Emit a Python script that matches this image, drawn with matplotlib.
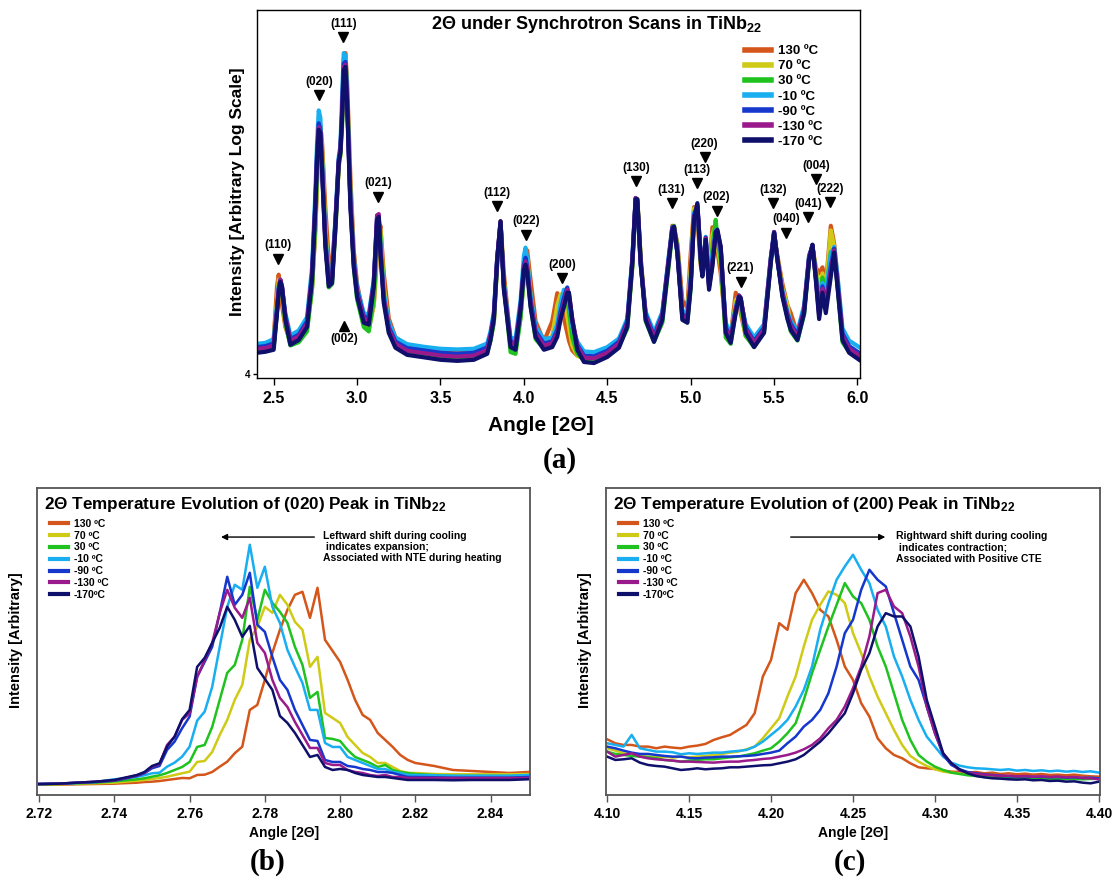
import matplotlib
matplotlib.use('Agg')
import matplotlib.pyplot as plt
from matplotlib.ticker import NullLocator, FormatStrFormatter

plt.rcParams['font.family'] = ['Liberation Sans', 'DejaVu Sans']
plt.rcParams['font.weight'] = 'bold'
plt.rcParams['axes.labelweight'] = 'bold'
plt.rcParams['mathtext.fontset'] = 'custom'
plt.rcParams['mathtext.rm'] = 'Liberation Sans:bold'
plt.rcParams['mathtext.bf'] = 'Liberation Sans:bold'
plt.rcParams['mathtext.default'] = 'bf'

#%% data
labels_a = ['130 ºC', '70 ºC', '30 ºC', '-10 ºC', '-90 ºC', '-130 ºC', '-170 ºC']
labels_bc = ['130 ºC', '70 ºC', '30 ºC', '-10 ºC', '-90 ºC', '-130 ºC', '-170ºC']
colors = ['#D4561A', '#CFCA16', '#1FC21F', '#18AEF0', '#1537CC', '#9A1A8C', '#0E106C']

# (a) full scan, log intensity
angle_a = [2.40, 2.45, 2.50, 2.52, 2.53, 2.54, 2.55, 2.57, 2.60, 2.65,
           2.70, 2.73, 2.75, 2.76, 2.77, 2.78, 2.79, 2.81, 2.83, 2.85,
           2.87, 2.89, 2.90, 2.91, 2.92, 2.93, 2.94, 2.96, 2.98, 3.00,
           3.04, 3.07, 3.10, 3.12, 3.13, 3.14, 3.16, 3.19, 3.23, 3.30,
           3.40, 3.50, 3.60, 3.70, 3.78, 3.80, 3.82, 3.84, 3.86, 3.88,
           3.92, 3.95, 3.98, 4.00, 4.01, 4.02, 4.04, 4.07, 4.12, 4.17,
           4.20, 4.22, 4.24, 4.26, 4.27, 4.29, 4.32, 4.36, 4.42, 4.50,
           4.57, 4.62, 4.65, 4.67, 4.68, 4.70, 4.73, 4.78, 4.83, 4.87,
           4.89, 4.90, 4.92, 4.95, 4.98, 5.00, 5.02, 5.04, 5.06, 5.07,
           5.09, 5.11, 5.13, 5.15, 5.16, 5.18, 5.21, 5.24, 5.27, 5.29,
           5.30, 5.33, 5.38, 5.44, 5.48, 5.50, 5.52, 5.55, 5.58, 5.60,
           5.64, 5.68, 5.71, 5.73, 5.75, 5.77, 5.79, 5.81, 5.84, 5.86,
           5.88, 5.91, 5.95, 6.01]

a_130 = [4.78, 4.80, 5.00, 7.00, 7.54, 7.00, 6.20, 5.40, 4.92, 5.00,
         5.40, 7.00, 10.0, 13.5, 17.5, 19.5, 17.5, 11.5, 8.30, 8.00,
         10.5, 15.0, 16.8, 21.0, 30.0, 31.0, 26.0, 14.0, 8.80, 7.10,
         5.75, 5.45, 6.20, 8.60, 9.80, 10.3, 7.60, 5.70, 5.05, 4.80,
         4.70, 4.62, 4.62, 4.66, 4.75, 5.05, 5.60, 8.10, 10.5, 7.60,
         4.90, 4.80, 5.80, 7.60, 8.60, 8.80, 7.30, 5.60, 4.92, 5.60,
         6.70, 6.40, 5.70, 5.20, 4.95, 4.65, 4.50, 4.45, 4.45, 4.60,
         4.90, 5.60, 8.00, 12.2, 12.2, 8.40, 5.85, 5.15, 5.90, 8.40,
         10.3, 10.2, 9.20, 6.40, 6.10, 8.60, 11.6, 10.8, 8.00, 7.70,
         9.00, 7.60, 10.2, 10.0, 8.80, 7.60, 5.40, 5.10, 6.72, 6.40,
         5.90, 5.10, 4.85, 5.40, 8.40, 9.60, 8.50, 7.10, 6.20, 5.90,
         5.15, 6.10, 8.50, 9.00, 7.90, 7.60, 7.90, 7.00, 10.3, 9.20,
         7.40, 5.20, 4.75, 4.55]
a_70 = [4.72, 4.75, 4.85, 6.40, 7.30, 7.25, 6.60, 5.50, 4.86, 4.95,
        5.35, 6.90, 10.3, 14.0, 18.0, 19.2, 16.5, 10.2, 7.50, 7.40,
        10.0, 15.0, 16.2, 20.0, 28.5, 30.0, 24.0, 12.8, 8.20, 6.70,
        5.50, 5.30, 6.20, 8.90, 10.2, 10.0, 7.00, 5.45, 4.90, 4.66,
        4.58, 4.52, 4.50, 4.52, 4.64, 5.00, 5.60, 8.20, 10.6, 7.20,
        4.75, 4.68, 5.80, 7.60, 8.40, 8.40, 6.60, 5.20, 4.80, 5.10,
        6.20, 6.65, 6.40, 5.80, 5.40, 4.80, 4.50, 4.40, 4.38, 4.55,
        4.80, 5.45, 8.00, 12.2, 12.2, 8.30, 5.70, 5.00, 5.70, 8.30,
        10.2, 10.2, 8.90, 5.90, 5.85, 7.80, 11.5, 11.5, 8.20, 7.60,
        9.20, 7.40, 9.70, 10.4, 9.10, 8.00, 5.20, 5.00, 6.40, 6.55,
        6.10, 5.10, 4.82, 5.35, 8.30, 9.70, 8.40, 6.90, 6.20, 5.45,
        5.00, 6.00, 8.40, 9.00, 7.80, 6.90, 7.60, 6.80, 10.0, 9.00,
        7.20, 5.00, 4.65, 4.48]
a_30 = [4.65, 4.68, 4.74, 5.95, 6.80, 7.10, 6.85, 5.55, 4.80, 4.90,
        5.25, 6.90, 10.5, 14.5, 18.6, 19.0, 15.5, 9.50, 6.95, 7.10,
        10.0, 15.2, 16.2, 19.5, 27.5, 29.5, 24.5, 12.2, 7.90, 6.45,
        5.40, 5.25, 6.40, 9.30, 10.5, 9.60, 6.60, 5.25, 4.78, 4.58,
        4.52, 4.46, 4.44, 4.46, 4.58, 4.95, 5.55, 8.10, 10.5, 7.10,
        4.60, 4.55, 5.70, 7.40, 8.00, 7.90, 6.20, 5.00, 4.70, 4.85,
        5.30, 6.10, 6.70, 6.45, 6.00, 5.05, 4.55, 4.38, 4.36, 4.52,
        4.78, 5.35, 7.90, 12.0, 12.2, 8.40, 5.60, 4.92, 5.55, 8.10,
        9.90, 10.3, 9.00, 5.70, 5.55, 6.90, 11.0, 11.6, 8.20, 7.50,
        9.30, 7.10, 8.90, 10.7, 9.50, 8.30, 5.05, 4.85, 6.00, 6.55,
        6.25, 5.10, 4.75, 5.25, 8.10, 9.80, 8.40, 6.60, 5.75, 5.25,
        4.95, 5.85, 8.20, 9.10, 7.60, 6.20, 7.40, 6.60, 8.70, 8.80,
        7.00, 4.90, 4.60, 4.42]
a_m10 = [4.85, 4.88, 5.00, 6.20, 7.00, 7.30, 6.90, 5.90, 5.12, 5.28,
         5.75, 7.90, 12.8, 17.5, 21.5, 20.5, 15.6, 9.60, 7.50, 7.60,
         10.8, 16.0, 17.2, 23.5, 31.0, 30.5, 23.8, 12.3, 8.40, 6.95,
         5.90, 5.85, 7.30, 10.6, 10.8, 9.10, 6.70, 5.55, 5.05, 4.84,
         4.76, 4.70, 4.68, 4.70, 4.86, 5.25, 5.95, 8.35, 10.3, 7.10,
         5.05, 5.00, 6.40, 8.50, 8.96, 8.30, 6.60, 5.40, 5.00, 5.05,
         5.50, 6.30, 6.85, 6.80, 6.40, 5.40, 4.92, 4.62, 4.60, 4.75,
         5.02, 5.70, 8.40, 12.3, 11.8, 8.00, 5.95, 5.22, 5.95, 8.60,
         10.2, 10.0, 8.70, 6.00, 5.90, 7.40, 11.2, 11.5, 8.50, 7.70,
         9.60, 7.20, 8.60, 10.0, 9.60, 8.70, 5.55, 5.15, 6.15, 6.60,
         6.35, 5.50, 5.05, 5.50, 8.40, 9.90, 8.20, 6.80, 5.95, 5.60,
         5.25, 6.20, 8.55, 9.00, 7.55, 6.05, 7.15, 6.70, 8.60, 9.00,
         7.50, 5.35, 4.95, 4.75]
a_m90 = [4.75, 4.78, 4.86, 6.05, 6.90, 7.30, 6.95, 5.80, 5.00, 5.14,
         5.60, 7.60, 12.1, 16.3, 19.8, 19.0, 15.0, 9.30, 7.25, 7.40,
         10.5, 15.7, 16.8, 21.5, 29.0, 29.3, 23.2, 12.0, 8.20, 6.80,
         5.78, 5.72, 7.20, 11.0, 10.9, 8.85, 6.50, 5.40, 4.92, 4.72,
         4.65, 4.58, 4.55, 4.58, 4.74, 5.15, 5.85, 8.40, 10.5, 7.00,
         4.93, 4.86, 6.20, 8.00, 8.40, 7.90, 6.40, 5.26, 4.86, 4.93,
         5.30, 5.95, 6.50, 6.95, 6.60, 5.60, 4.82, 4.50, 4.48, 4.64,
         4.92, 5.60, 8.30, 12.3, 12.0, 8.10, 5.85, 5.10, 5.85, 8.50,
         10.2, 10.1, 8.70, 5.85, 5.75, 7.20, 11.0, 11.7, 8.45, 7.60,
         9.55, 7.05, 8.20, 9.95, 9.85, 8.90, 5.40, 5.05, 6.05, 6.60,
         6.45, 5.38, 4.93, 5.38, 8.30, 9.90, 8.30, 6.70, 5.85, 5.50,
         5.15, 6.05, 8.45, 9.10, 7.45, 5.90, 7.00, 6.25, 7.95, 8.90,
         7.20, 5.18, 4.78, 4.58]
a_m130 = [4.70, 4.72, 4.80, 6.00, 6.85, 7.30, 7.00, 5.75, 4.95, 5.08,
          5.52, 7.50, 11.9, 16.0, 19.3, 18.8, 14.9, 9.20, 7.15, 7.30,
          10.4, 15.6, 16.6, 20.8, 28.3, 28.8, 23.0, 11.9, 8.10, 6.70,
          5.68, 5.62, 7.10, 11.0, 11.1, 8.80, 6.42, 5.32, 4.85, 4.64,
          4.57, 4.50, 4.47, 4.50, 4.66, 5.08, 5.78, 8.35, 10.6, 6.95,
          4.87, 4.79, 6.10, 7.85, 8.20, 7.80, 6.28, 5.18, 4.79, 4.87,
          5.20, 5.78, 6.30, 6.85, 6.70, 5.70, 4.78, 4.44, 4.42, 4.58,
          4.85, 5.52, 8.20, 12.3, 12.1, 8.20, 5.77, 5.03, 5.77, 8.40,
          10.1, 10.2, 8.75, 5.77, 5.67, 7.10, 10.8, 11.8, 8.40, 7.55,
          9.50, 6.97, 8.05, 9.90, 9.95, 9.00, 5.32, 5.00, 6.00, 6.60,
          6.50, 5.32, 4.87, 5.32, 8.25, 9.90, 8.35, 6.65, 5.78, 5.42,
          5.09, 6.00, 8.40, 9.10, 7.40, 5.80, 6.90, 6.10, 7.70, 8.80,
          7.10, 5.09, 4.70, 4.50]
a_m170 = [4.58, 4.61, 4.67, 5.90, 6.70, 7.20, 6.98, 5.65, 4.82, 4.97,
          5.40, 7.30, 11.6, 15.7, 19.0, 18.6, 14.7, 9.00, 7.00, 7.15,
          10.2, 15.4, 16.4, 20.3, 27.8, 28.4, 22.6, 11.6, 7.94, 6.55,
          5.55, 5.48, 6.98, 10.7, 10.9, 8.68, 6.30, 5.20, 4.73, 4.52,
          4.45, 4.38, 4.35, 4.38, 4.55, 4.97, 5.68, 8.29, 10.6, 6.85,
          4.75, 4.67, 6.03, 7.78, 8.04, 7.63, 6.14, 5.07, 4.67, 4.75,
          5.07, 5.68, 6.14, 6.72, 6.72, 5.65, 4.67, 4.32, 4.29, 4.46,
          4.73, 5.41, 8.13, 12.2, 12.2, 8.13, 5.65, 4.91, 5.65, 8.29,
          10.05, 10.25, 8.68, 5.65, 5.55, 6.98, 10.7, 11.9, 8.29, 7.45,
          9.42, 6.85, 7.94, 9.86, 10.05, 9.00, 5.20, 4.88, 5.90, 6.55,
          6.50, 5.20, 4.75, 5.20, 8.13, 9.86, 8.29, 6.55, 5.68, 5.30,
          4.97, 5.90, 8.29, 9.13, 7.30, 5.68, 6.72, 5.90, 7.45, 8.68,
          6.98, 4.97, 4.58, 4.38]

peak_names = ['(111)', '(020)', '(021)', '(110)', '(112)', '(022)', '(200)', '(130)', '(131)',
              '(113)', '(220)', '(202)', '(221)', '(132)', '(040)', '(041)', '(004)', '(222)']
peak_angles = [2.918, 2.774, 3.128, 2.528, 3.841, 4.015, 4.231, 4.675, 4.885,
               5.035, 5.083, 5.155, 5.299, 5.496, 5.574, 5.706, 5.754, 5.838]
peak_levels = [34.3, 23.7, 12.4, 8.35, 11.7, 9.73, 7.39, 13.7, 11.9,
               13.5, 16.0, 11.35, 7.21, 11.9, 9.86, 10.9, 13.9, 12.0]
hidden_peak = ('(002)', 2.924, 5.44)

# (b) (020) peak, linear intensity
angle_b = [2.720, 2.725, 2.730, 2.735, 2.740,
           2.742, 2.744, 2.746, 2.748, 2.750, 2.752, 2.754, 2.756, 2.758, 2.760,
           2.762, 2.764, 2.766, 2.768, 2.770, 2.772, 2.774, 2.776, 2.778, 2.780,
           2.782, 2.784, 2.786, 2.788, 2.790, 2.792, 2.794, 2.796, 2.798, 2.800,
           2.802, 2.804, 2.806, 2.808, 2.810, 2.812, 2.814, 2.816, 2.818, 2.820,
           2.825, 2.830, 2.835, 2.840, 2.845, 2.850]
b_130 = [10.3, 10.3, 10.7, 11.0, 11.3,
         11.7, 12.0, 12.3, 13.0, 13.3, 14.0, 15.0, 16.0, 17.0, 16.7,
         20.0, 20.3, 23.0, 28.3, 33.3, 41.7, 48.3, 85.0, 90.0, 115,
         142, 165, 185, 200, 203, 177, 207, 155, 144, 133,
         115, 95, 80, 75, 62, 55, 48, 40, 35, 32,
         29, 25, 24, 23, 22, 23]
b_70 = [10.7, 10.7, 11.3, 11.7, 12.3,
        13.0, 13.7, 14.3, 15.0, 16.0, 17.0, 18.3, 20.0, 21.7, 23.3,
        33.0, 34.0, 43.0, 60.0, 75.0, 95.0, 110, 155, 168, 188,
        182, 200, 190, 173, 165, 128, 138, 82, 77, 72,
        58, 50, 42, 38, 32, 32, 28, 24, 22, 22,
        21, 20.7, 20.7, 20.7, 20.7, 21]
b_30 = [10.7, 11.0, 11.7, 12.3, 13.7,
        14.3, 15.0, 15.7, 16.7, 18.3, 19.7, 22.0, 25.0, 28.0, 33.0,
        48.0, 50.0, 68.0, 95.0, 122, 130, 155, 208, 175, 205,
        192, 183, 172, 148, 130, 97, 103, 57, 56, 54,
        45, 38, 35, 32, 28, 30, 25, 23, 22, 21,
        20, 19, 19, 19, 19, 19.3]
b_m10 = [11.0, 11.3, 12.0, 13.0, 15.7,
         16.3, 17.3, 18.3, 19.7, 21.7, 22.3, 28.3, 32.3, 38.3, 48.3,
         74.3, 83.3, 108, 148, 188, 210, 205, 250, 207, 228,
         188, 172, 145, 128, 112, 85, 85, 52, 48, 48,
         38, 35, 32, 29, 26, 26, 23, 22, 20, 20,
         19.7, 19.3, 19.3, 19.3, 19.3, 20]
b_m90 = [11.0, 11.3, 12.3, 13.0, 14.3,
         15.7, 17.3, 19.0, 21.7, 26.7, 29.0, 45.0, 53.3, 66.7, 78.3,
         118, 133, 148, 182, 218, 190, 200, 222, 170, 163,
         138, 115, 105, 85, 70, 55, 54, 35, 33, 33,
         29, 28, 26, 25, 23, 23, 22, 20, 18, 18,
         17.7, 17.3, 17.3, 17.3, 17.3, 18]
b_m130 = [11.0, 11.3, 12.3, 13.3, 14.7,
          16.3, 18.0, 19.7, 22.3, 28.3, 31.0, 50.0, 58.3, 75.0, 81.7,
          118, 135, 152, 182, 205, 187, 177, 197, 152, 142,
          115, 97, 88, 73, 60, 47, 47, 32, 30, 30,
          25, 23, 22, 20, 19, 20, 18, 18, 17, 17,
          17, 17, 17, 17, 17, 17]
b_m170 = [11.0, 11.3, 12.3, 13.3, 15.0,
          16.7, 18.3, 20.0, 23.0, 29.0, 31.7, 48.3, 58.3, 75.7, 85.0,
          128, 137, 152, 167, 188, 175, 158, 169, 127, 116,
          105, 79, 72, 62, 50, 38, 40, 28, 25, 26,
          25, 22, 20, 19, 18, 18, 17, 16, 15, 15,
          15, 14.7, 15, 15, 15, 15.7]

# (c) (200) peak, linear intensity
angle_c = [4.100, 4.105, 4.110, 4.115, 4.120, 4.125, 4.130, 4.135, 4.140, 4.145,
           4.150, 4.155, 4.160, 4.165, 4.170, 4.175, 4.180, 4.185, 4.190, 4.195,
           4.200, 4.205, 4.210, 4.215, 4.220, 4.225, 4.230, 4.235, 4.240, 4.245,
           4.250, 4.255, 4.260, 4.265, 4.270, 4.275, 4.280, 4.285, 4.290, 4.295,
           4.300, 4.305, 4.310, 4.315, 4.320, 4.325, 4.330, 4.335, 4.340, 4.345,
           4.350, 4.355, 4.360, 4.365, 4.370, 4.375, 4.380, 4.385, 4.390, 4.395,
           4.400]
c_130 = [167, 155, 150, 150, 145, 145, 140, 145, 142, 140,
         145, 148, 153, 165, 173, 180, 195, 210, 245, 355,
         405, 515, 495, 605, 645, 605, 555, 535, 465, 385,
         345, 275, 235, 170, 140, 120, 110, 95, 83, 80,
         78, 73, 70, 69, 67, 69, 65, 67, 63, 65,
         62, 64, 61, 63, 60, 61, 59, 61, 58, 56,
         55]
c_70 = [140, 133, 125, 120, 117, 115, 113, 115, 112, 115,
        113, 115, 117, 120, 123, 127, 130, 137, 145, 170,
        200, 230, 295, 355, 445, 525, 570, 610, 600, 575,
        485, 425, 355, 295, 245, 195, 150, 117, 100, 87,
        77, 70, 67, 65, 63, 61, 59, 57, 56, 55,
        54, 55, 53, 53, 52, 53, 51, 52, 50, 51,
        50]
c_30 = [130, 123, 120, 117, 115, 113, 110, 105, 103, 100,
        103, 105, 107, 107, 110, 113, 115, 120, 125, 133,
        140, 160, 185, 215, 285, 365, 435, 505, 570, 635,
        595, 575, 525, 445, 385, 305, 225, 165, 120, 100,
        85, 75, 67, 63, 59, 57, 54, 52, 51, 50,
        49, 50, 48, 49, 48, 49, 47, 48, 47, 48,
        49]
c_m10 = [155, 150, 145, 180, 140, 135, 130, 130, 128, 122,
         125, 123, 125, 127, 127, 130, 132, 135, 145, 160,
         180, 200, 225, 265, 315, 385, 495, 575, 645, 685,
         720, 675, 635, 555, 505, 415, 355, 285, 225, 175,
         145, 115, 97, 88, 83, 80, 79, 77, 75, 77,
         73, 75, 72, 74, 71, 73, 70, 72, 69, 71,
         67]
c_m90 = [145, 140, 133, 127, 123, 123, 120, 117, 115, 115,
         111, 110, 112, 113, 115, 115, 116, 117, 119, 123,
         127, 133, 155, 175, 205, 225, 255, 305, 385, 485,
         525, 615, 675, 645, 625, 545, 465, 385, 345, 265,
         185, 120, 90, 77, 69, 65, 62, 60, 58, 56,
         55, 56, 54, 55, 53, 54, 52, 53, 51, 52,
         50]
c_m130 = [130, 115, 120, 125, 115, 110, 107, 105, 103, 100,
          100, 99, 98, 97, 99, 100, 100, 103, 105, 108,
          110, 115, 120, 127, 137, 150, 170, 200, 225, 265,
          320, 385, 475, 605, 615, 565, 545, 475, 385, 265,
          185, 125, 95, 73, 67, 63, 61, 59, 57, 58,
          56, 57, 55, 56, 54, 55, 53, 54, 51, 50,
          47]
c_m170 = [115, 105, 107, 110, 97, 90, 87, 85, 80, 75,
          77, 80, 77, 79, 80, 83, 83, 85, 87, 89,
          90, 95, 100, 107, 120, 140, 160, 185, 215, 245,
          305, 375, 425, 505, 545, 535, 535, 505, 415, 285,
          205, 125, 95, 77, 65, 57, 53, 50, 49, 47,
          46, 47, 44, 45, 42, 43, 40, 41, 37, 35,
          40]

series_a = [a_130, a_70, a_30, a_m10, a_m90, a_m130, a_m170]
series_b = [b_130, b_70, b_30, b_m10, b_m90, b_m130, b_m170]
series_c = [c_130, c_70, c_30, c_m10, c_m90, c_m130, c_m170]

W, H = 1116, 884
fig = plt.figure(figsize=(W / 100, H / 100), dpi=100)


def px_box(left, top, right, bottom):
    return [left / W, 1 - bottom / H, (right - left) / W, (bottom - top) / H]


#%% panel (a)
ax = fig.add_axes(px_box(257, 10, 860, 378))
for vals, col, lab in zip(series_a, colors, labels_a):
    ax.plot(angle_a, vals, color=col, lw=3.0, label=lab, solid_joinstyle='round')
ax.set_yscale('log')
ax.set_xlim(2.4, 6.015)
ax.set_ylim(3.9, 40.8)
ax.set_yticks([4])
ax.set_yticklabels(['4'], fontsize=7)
ax.yaxis.set_minor_locator(NullLocator())
ax.set_xticks([2.5, 3.0, 3.5, 4.0, 4.5, 5.0, 5.5, 6.0])
ax.xaxis.set_major_formatter(FormatStrFormatter('%.1f'))
ax.tick_params(axis='x', labelsize=11.5, length=5, width=1, pad=4)
ax.tick_params(axis='y', length=3, width=1, pad=2)
for sp in ax.spines.values():
    sp.set_linewidth(1)
ax.text(0.562, 0.960, '2Θ under Synchrotron Scans in TiNb$_{22}$', transform=ax.transAxes,
        ha='center', va='center', fontsize=13)
for name, xa, lv in zip(peak_names, peak_angles, peak_levels):
    ax.plot([xa], [lv], marker='v', color='black', ms=6.5, ls='none')
    ax.annotate(name, (xa, lv), xytext=(0, 9.5), textcoords='offset points',
                ha='center', va='center', fontsize=8.5)
ax.plot([hidden_peak[1]], [hidden_peak[2]], marker='^', color='black', ms=6.5, ls='none')
ax.annotate(hidden_peak[0], (hidden_peak[1], hidden_peak[2]), xytext=(0, -9.5),
            textcoords='offset points', ha='center', va='center', fontsize=8.5)
leg = ax.legend(loc='upper left', bbox_to_anchor=(0.809, 0.905), frameon=False,
                prop={'weight': 'bold', 'size': 9.5}, handlelength=2.0,
                handletextpad=0.5, labelspacing=0.22, borderpad=0, borderaxespad=0)
for ln in leg.get_lines():
    ln.set_linewidth(4)
fig.text(541 / W, 1 - 425 / H, 'Angle [2Θ]', ha='center', va='center', fontsize=15)
fig.text(238 / W, 1 - 192 / H, 'Intensity [Arbitrary Log Scale]', rotation=90,
         ha='center', va='center', fontsize=12.5)
fig.text(560 / W, 1 - 460 / H, '(a)', family='Liberation Serif', fontsize=21,
         ha='center', va='center')


#%% panels (b) and (c)
def peak_panel(box, xs, series, xlim, ylim, xticks, title, arrow, note, note_xy, tag, tag_x):
    axp = fig.add_axes(box)
    for vals, col, lab in zip(series, colors, labels_bc):
        axp.plot(xs, vals, color=col, lw=1.8, label=lab)
    axp.set_xlim(*xlim)
    axp.set_ylim(*ylim)
    axp.set_yticks([])
    axp.set_xticks(xticks)
    axp.xaxis.set_major_formatter(FormatStrFormatter('%.2f'))
    axp.tick_params(axis='x', labelsize=10, length=5, width=1, color='#555555', pad=4)
    for sp in axp.spines.values():
        sp.set_color('#555555')
        sp.set_linewidth(1.3)
    axp.set_xlabel('Angle [2Θ]', fontsize=10, labelpad=3)
    axp.text(0.014, 0.945, title, transform=axp.transAxes, ha='left', va='center',
             fontsize=12.3)
    lg = axp.legend(loc='upper left', bbox_to_anchor=(0.025, 0.9), frameon=False,
                    prop={'weight': 'bold', 'size': 7.5}, handlelength=1.8,
                    handletextpad=0.5, labelspacing=0.18, borderpad=0, borderaxespad=0)
    for ln in lg.get_lines():
        ln.set_linewidth(3)
    axp.annotate('', xy=arrow[1], xytext=arrow[0],
                 arrowprops=dict(arrowstyle='-|>', color='black', lw=1, mutation_scale=9))
    axp.text(note_xy[0], note_xy[1], note, ha='left', va='top', fontsize=7.5, linespacing=1.15)
    fig.text((box[0] * W - 21) / W, 1 - 640 / H, 'Intensity [Arbitrary]', rotation=90,
             ha='center', va='center', fontsize=10.5)
    fig.text(tag_x / W, 1 - 862 / H, tag, family='Liberation Serif', fontsize=21,
             ha='center', va='center')
    return axp


peak_panel(px_box(37.3, 488, 530, 795), angle_b, series_b, (2.7195, 2.8505), (0, 306.7),
           [2.72, 2.74, 2.76, 2.78, 2.80, 2.82, 2.84],
           '2Θ Temperature Evolution of (020) Peak in TiNb$_{22}$',
           ((2.7939, 257.7), (2.7676, 257.7)),
           'Leftward shift during cooling\n indicates expansion;\nAssociated with NTE during heating',
           (2.7955, 264), '(b)', 268)
peak_panel(px_box(606.3, 488, 1099.7, 795), angle_c, series_c, (4.0995, 4.4005), (0, 920),
           [4.10, 4.15, 4.20, 4.25, 4.30, 4.35, 4.40],
           '2Θ Temperature Evolution of (200) Peak in TiNb$_{22}$',
           ((4.2103, 773), (4.2714, 773)),
           'Rightward shift during cooling\n indicates contraction;\nAssociated with Positive CTE',
           (4.2761, 790), '(c)', 850)

fig.savefig('out.png', dpi=100)
